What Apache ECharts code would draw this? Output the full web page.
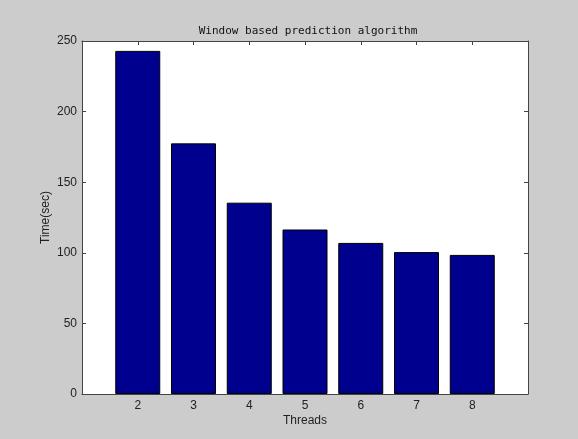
<!DOCTYPE html>
<html>
<head>
<meta charset="utf-8">
<script src="https://cdn.jsdelivr.net/npm/echarts@6/dist/echarts.min.js"></script>
<style>html,body{margin:0;padding:0;background:#cccccc;}#c{width:578px;height:439px;}</style>
</head>
<body>
<div id="c"></div>
<script>
var threads = [2, 3, 4, 5, 6, 7, 8];
var times = [243, 177.5, 135.5, 116.5, 107, 100.5, 98.5];
var yTicks = [0, 50, 100, 150, 200, 250];

var chart = echarts.init(document.getElementById('c'), null, {renderer: 'canvas'});
var axisCol = '#444444';
var lblFont = {color: '#222', fontFamily: 'Liberation Sans, Arial, sans-serif', fontSize: 12};
var data = threads.map(function (t, i) { return [t, times[i]]; });

chart.setOption({
  backgroundColor: '#cccccc',
  animation: false,
  title: {
    text: 'Window based prediction algorithm',
    left: 303, top: 21, textAlign: 'center',
    textStyle: {fontFamily: 'DejaVu Sans Mono, monospace', fontSize: 11, fontWeight: 'normal', color: '#111'}
  },
  grid: {left: 82, right: 50, top: 41, bottom: 45, show: true, backgroundColor: '#ffffff', borderWidth: 0},
  xAxis: [{
    type: 'value', min: 1, max: 9, interval: 1, position: 'bottom',
    name: 'Threads', nameLocation: 'middle', nameGap: 21, nameMoveOverlap: false,
    nameTextStyle: lblFont,
    axisLine: {show: true, lineStyle: {color: axisCol}},
    axisTick: {show: true, inside: true, length: 4, lineStyle: {color: axisCol}},
    axisLabel: Object.assign({margin: 6, formatter: function (v) { return (v >= 2 && v <= 8) ? String(v) : ''; }}, lblFont),
    splitLine: {show: false}
  }, {
    type: 'value', min: 1, max: 9, interval: 1, position: 'top',
    axisLine: {show: true, onZero: false, lineStyle: {color: axisCol}},
    axisTick: {show: true, inside: true, length: 4, lineStyle: {color: axisCol}},
    axisLabel: {show: false},
    splitLine: {show: false}
  }],
  yAxis: [{
    type: 'value', min: yTicks[0], max: yTicks[yTicks.length - 1], interval: 50, position: 'left',
    name: 'Time(sec)', nameLocation: 'middle', nameGap: 30, nameRotate: 90, nameMoveOverlap: false,
    nameTextStyle: lblFont,
    axisLine: {show: true, lineStyle: {color: axisCol}},
    axisTick: {show: true, inside: true, length: 4, lineStyle: {color: axisCol}},
    axisLabel: Object.assign({margin: 5}, lblFont),
    splitLine: {show: false}
  }, {
    type: 'value', min: yTicks[0], max: yTicks[yTicks.length - 1], interval: 50, position: 'right',
    axisLine: {show: true, onZero: false, lineStyle: {color: axisCol}},
    axisTick: {show: true, inside: true, length: 4, lineStyle: {color: axisCol}},
    axisLabel: {show: false},
    splitLine: {show: false}
  }],
  series: [{
    type: 'bar', xAxisIndex: 0, yAxisIndex: 0,
    data: data, barWidth: 45,
    itemStyle: {color: '#00008f', borderColor: '#000000', borderWidth: 1}
  }]
});
</script>
</body>
</html>
